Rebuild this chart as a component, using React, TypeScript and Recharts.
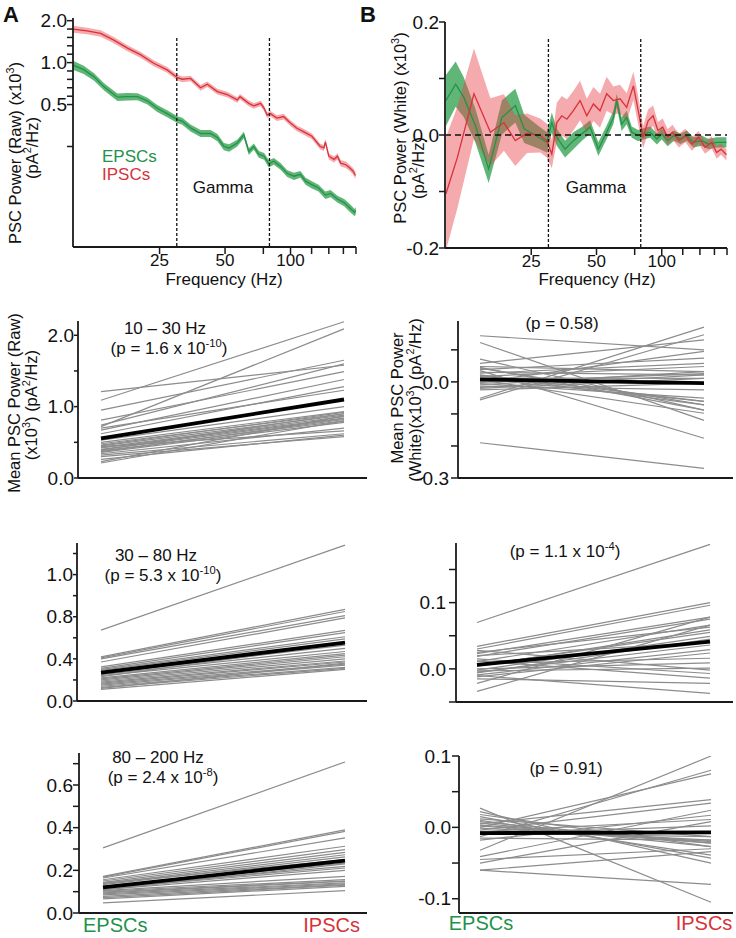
import React from 'react';
import { ComposedChart, LineChart, Line, Area, XAxis, YAxis, ReferenceLine } from 'recharts';

const FONT = '"Liberation Sans", Arial, Helvetica, sans-serif';
const AXIS = '#1a1a1a';
const GRAY = '#8c8c8c';
const GREEN = '#23924a';
const RED = '#d8323a';
const TXT = '#111111';

// ---------- Panel A : raw PSC power spectra ----------
const A_IPSC_FREQ = [10, 11.6, 13.4, 15.4, 17.8, 20.4, 23.5, 27.1, 30.2, 31.8, 34.7, 38.6, 41.4, 46.1, 51.1, 56.9, 58.6, 64.3, 67.8, 72.9, 75.6, 78.1, 80.9, 86.6, 92.9, 99.6, 107, 114.6, 125.4, 137, 142.4, 144.6, 150, 158.6, 164.3, 170, 179.6, 186.9, 193.6, 199];
const A_IPSC_POWER = [1.74, 1.69, 1.62, 1.45, 1.27, 1.14, 0.99, 0.887, 0.78, 0.76, 0.77, 0.66, 0.70, 0.62, 0.59, 0.54, 0.57, 0.51, 0.49, 0.51, 0.47, 0.42, 0.43, 0.40, 0.41, 0.37, 0.338, 0.32, 0.296, 0.25, 0.244, 0.27, 0.213, 0.202, 0.213, 0.19, 0.185, 0.176, 0.167, 0.155];
const A_IPSC_SEM = [0.1, 0.09, 0.085, 0.075, 0.065, 0.055, 0.048, 0.042, 0.037, 0.036, 0.036, 0.031, 0.032, 0.029, 0.027, 0.025, 0.026, 0.024, 0.023, 0.023, 0.022, 0.02, 0.02, 0.019, 0.019, 0.018, 0.016, 0.015, 0.014, 0.012, 0.012, 0.013, 0.011, 0.01, 0.011, 0.01, 0.01, 0.009, 0.009, 0.009];

const A_EPSC_FREQ = [10, 11.2, 12.5, 13.9, 16.0, 17.8, 19.8, 22.0, 24.4, 27.1, 30.2, 31.8, 34.7, 38.6, 42.9, 46.1, 49.4, 52.2, 56.9, 61, 64.3, 67.8, 71.5, 75.6, 79.5, 83.8, 90, 96.6, 103.7, 111, 117.3, 125.4, 134.5, 144.6, 152.8, 164.3, 176.4, 186.9, 197.2, 199.5];
const A_EPSC_POWER = [0.96, 0.89, 0.79, 0.67, 0.565, 0.57, 0.57, 0.53, 0.47, 0.43, 0.39, 0.38, 0.34, 0.31, 0.31, 0.29, 0.25, 0.244, 0.265, 0.303, 0.23, 0.25, 0.22, 0.213, 0.188, 0.196, 0.18, 0.16, 0.153, 0.158, 0.141, 0.133, 0.126, 0.112, 0.115, 0.105, 0.099, 0.091, 0.084, 0.087];
const A_EPSC_SEM = [0.07, 0.06, 0.05, 0.04, 0.035, 0.035, 0.033, 0.03, 0.027, 0.025, 0.022, 0.022, 0.02, 0.018, 0.018, 0.017, 0.015, 0.015, 0.015, 0.016, 0.013, 0.013, 0.012, 0.012, 0.011, 0.011, 0.01, 0.009, 0.009, 0.009, 0.008, 0.008, 0.007, 0.007, 0.007, 0.006, 0.006, 0.006, 0.005, 0.005];

// ---------- Panel B : whitened PSC power spectra ----------
const B_IPSC_FREQ = [10.1, 11.4, 13.6, 16.2, 18.7, 21.1, 23.9, 27.5, 29.5, 31.1, 32.8, 34.6, 36.5, 39.1, 42.0, 45.1, 48.4, 51.9, 55.7, 59.8, 64.2, 68.9, 74, 77.9, 82.1, 86.5, 91.2, 96, 101, 106.5, 112, 120, 128.5, 137.8, 147.7, 158.4, 170, 179, 188, 198.8];
const B_IPSC_POWER = [-0.104, -0.04, 0.073, 0.005, 0.022, -0.01, 0.003, -0.001, -0.01, -0.034, 0.022, 0.034, 0.028, 0.043, 0.061, 0.034, 0.055, 0.043, 0.073, 0.061, 0.064, 0.049, 0.087, 0.043, -0.004, 0.025, 0.034, 0.008, 0.014, -0.004, 0.005, -0.01, -0.001, -0.016, -0.004, -0.022, -0.013, -0.031, -0.025, -0.035];
const B_IPSC_SEM = [0.1, 0.09, 0.08, 0.06, 0.05, 0.045, 0.035, 0.03, 0.03, 0.025, 0.035, 0.035, 0.035, 0.035, 0.035, 0.03, 0.03, 0.03, 0.03, 0.025, 0.025, 0.025, 0.025, 0.025, 0.02, 0.02, 0.018, 0.015, 0.015, 0.014, 0.013, 0.012, 0.012, 0.012, 0.011, 0.011, 0.011, 0.011, 0.01, 0.01];

const B_EPSC_FREQ = [10.1, 11.2, 12.2, 13.8, 15.9, 18.3, 21.1, 23.2, 27, 29.5, 31.1, 32.8, 35.8, 39.1, 42.8, 46.7, 51, 55.7, 59.8, 62, 65.3, 68.9, 72.7, 77.9, 82.1, 88.4, 95, 100, 106.5, 114, 122, 130.6, 140, 153, 164, 179, 198.8];
const B_EPSC_POWER = [0.061, 0.09, 0.067, 0.017, -0.06, 0.031, 0.052, 0.011, -0.004, -0.013, 0.022, -0.004, -0.025, -0.01, 0.002, 0.014, -0.025, 0.005, 0.031, 0.061, 0.019, 0.031, 0.005, -0.001, 0.002, 0.005, -0.007, 0.002, -0.01, -0.001, -0.007, -0.001, -0.013, -0.01, -0.016, -0.013, -0.013];
const B_EPSC_SEM = [0.045, 0.04, 0.035, 0.03, 0.025, 0.03, 0.03, 0.025, 0.02, 0.018, 0.018, 0.015, 0.015, 0.015, 0.012, 0.012, 0.012, 0.012, 0.012, 0.012, 0.012, 0.012, 0.01, 0.01, 0.01, 0.01, 0.01, 0.01, 0.01, 0.009, 0.009, 0.009, 0.009, 0.009, 0.009, 0.009, 0.009];

const FREQ_TICKS = [25, 50, 75, 100, 125, 150, 175, 200];
const FREQ_LABELS = [25, 50, 100];
const A_Y_TICKS = [0.25, 0.5, 0.574, 0.66, 0.758, 0.871, 1, 1.149, 1.32, 1.516, 1.741, 2];
const A_Y_LABELS: [number, string][] = [[0.5, '0.5'], [1, '1.0'], [2, '2.0']];
const B_Y_TICKS = [-0.2, -0.1, 0, 0.1, 0.2];
const B_Y_LABELS: [number, string][] = [[-0.2, '-0.2'], [0, '0.0'], [0.2, '0.2']];

// ---------- paired cell values (EPSC -> IPSC) ----------
const R1L_EPSC = [1.21, 1.09, 0.95, 0.81, 0.74, 0.72, 0.67, 0.62, 0.70, 0.53, 0.50, 0.48, 0.46, 0.45, 0.43, 0.42, 0.40, 0.38, 0.37, 0.36, 0.34, 0.32, 0.30, 0.26, 0.23, 0.21, 0.44, 0.39];
const R1L_IPSC = [1.58, 2.19, 1.65, 1.49, 1.60, 2.09, 1.38, 1.28, 1.23, 1.00, 0.93, 0.90, 0.92, 0.88, 0.86, 0.84, 0.83, 0.80, 0.82, 0.78, 0.70, 0.62, 0.58, 0.60, 0.87, 0.80, 0.66, 0.90];
const R1L_MEAN = [0.555, 1.10];
const R1L_TICKS = [0, 0.5, 1, 1.5, 2];
const R1L_LABELS: [number, string][] = [[0, '0.0'], [1, '1.0'], [2, '2.0']];

const R1R_EPSC = [0.144, 0.123, 0.071, 0.058, 0.048, 0.043, 0.038, 0.035, 0.03, 0.027, 0.022, 0.017, 0.012, 0.006, 0.0, -0.005, -0.009, -0.013, -0.017, -0.025, -0.051, -0.056, -0.19, 0.045, 0.02, -0.002, 0.01, -0.02];
const R1R_IPSC = [0.10, -0.12, -0.088, 0.131, 0.032, -0.072, 0.074, -0.176, 0.022, 0.058, -0.061, 0.048, 0.011, -0.098, 0.095, -0.051, 0.032, -0.025, 0.022, -0.004, 0.171, 0.147, -0.27, -0.088, -0.072, 0.026, -0.061, 0.011];
const R1R_MEAN = [0.008, -0.004];
const R1R_TICKS = [-0.3, -0.2, -0.1, 0, 0.1];
const R1R_LABELS: [number, string][] = [[-0.3, '-0.3'], [0, '0.0']];

const R2L_EPSC = [0.673, 0.419, 0.41, 0.40, 0.37, 0.324, 0.31, 0.30, 0.29, 0.28, 0.26, 0.25, 0.24, 0.23, 0.22, 0.21, 0.20, 0.19, 0.18, 0.17, 0.16, 0.15, 0.14, 0.13, 0.11, 0.12];
const R2L_IPSC = [1.48, 0.87, 0.85, 0.81, 0.79, 0.67, 0.65, 0.61, 0.59, 0.56, 0.53, 0.50, 0.47, 0.55, 0.45, 0.435, 0.42, 0.40, 0.38, 0.37, 0.35, 0.34, 0.32, 0.31, 0.30, 0.36];
const R2L_MEAN = [0.27, 0.555];
const R2L_TICKS = [0, 0.2, 0.4, 0.6, 0.8, 1.0, 1.2, 1.4];
const R2L_LABELS: [number, string][] = [[0, '0.0'], [0.4, '0.4'], [0.8, '0.8'], [1.2, '1.0']];

const R2R_EPSC = [0.07, 0.034, 0.03, 0.025, 0.023, 0.019, 0.015, 0.011, 0.004, -0.002, -0.005, -0.009, -0.012, -0.022, -0.034, 0.008, 0.0, -0.003, 0.012, -0.015, -0.01, 0.02, 0.028, -0.006, 0.005];
const R2R_IPSC = [0.188, 0.1, 0.096, 0.063, 0.078, 0.075, -0.007, 0.066, 0.059, 0.049, 0.036, 0.029, 0.024, 0.078, 0.066, 0.016, 0.009, 0.001, -0.014, -0.022, -0.037, 0.04, -0.002, 0.045, 0.055];
const R2R_MEAN = [0.006, 0.041];
const R2R_TICKS = [-0.05, 0, 0.05, 0.1, 0.15];
const R2R_LABELS: [number, string][] = [[0, '0.0'], [0.1, '0.1']];

const R3L_EPSC = [0.305, 0.172, 0.168, 0.164, 0.156, 0.15, 0.144, 0.138, 0.133, 0.125, 0.12, 0.115, 0.109, 0.105, 0.102, 0.098, 0.094, 0.09, 0.085, 0.078, 0.072, 0.066, 0.047, 0.11, 0.14];
const R3L_IPSC = [0.708, 0.39, 0.383, 0.352, 0.313, 0.297, 0.284, 0.273, 0.263, 0.234, 0.219, 0.211, 0.23, 0.172, 0.156, 0.15, 0.148, 0.141, 0.137, 0.133, 0.13, 0.125, 0.105, 0.2, 0.25];
const R3L_MEAN = [0.12, 0.245];
const R3L_TICKS = [0, 0.1, 0.2, 0.3, 0.4, 0.5, 0.6, 0.7];
const R3L_LABELS: [number, string][] = [[0, '0.0'], [0.2, '0.2'], [0.4, '0.4'], [0.6, '0.6']];

const R3R_EPSC = [0.027, 0.022, 0.015, 0.01, 0.006, 0.002, -0.001, -0.006, -0.013, -0.018, -0.032, -0.041, -0.05, -0.06, -0.06, 0.005, -0.004, 0.012, 0.0, -0.01, 0.008, -0.015, 0.018, -0.008, 0.003, -0.045];
const R3R_IPSC = [-0.105, -0.05, -0.043, -0.039, -0.027, -0.022, -0.018, 0.011, 0.08, 0.017, 0.1, 0.024, 0.008, -0.08, -0.034, 0.039, 0.034, -0.013, 0.075, 0.002, -0.022, -0.018, -0.027, -0.013, -0.02, -0.03];
const R3R_MEAN = [-0.008, -0.007];
const R3R_TICKS = [-0.1, -0.05, 0, 0.05, 0.1];
const R3R_LABELS: [number, string][] = [[-0.1, '-0.1'], [0, '0.0'], [0.1, '0.1']];

const CATEGORIES = ['EPSCs', 'IPSCs'];

// ---------- helpers ----------
function fmt(labels: [number, string][]) {
  return (v: number) => {
    const m = labels.find(([k]) => Math.abs(k - v) < 1e-9);
    return m ? m[1] : '';
  };
}

function toRows(f: number[], v: number[], e: number[]) {
  return f.map((fr, i) => ({ f: fr, v: v[i], band: [v[i] - e[i], v[i] + e[i]] }));
}

const xTickStyle = { fill: TXT, fontSize: 17, fontFamily: FONT };
const yTickStyle = { fill: TXT, fontSize: 19, fontFamily: FONT };

function SpectrumPanel(props: any) {
  const { left, top, right, bottom, yScale, yDomain, yTicks, yLabels, green, red, refTop, zeroLine, ySize, yMargin } = props;
  const YW = 60, MT = 12, XH = 40, MR = 4;
  const width = YW + (right - left) + MR;
  const height = MT + (bottom - top) + XH;
  return (
    <div style={{ position: 'absolute', left: left - YW, top: top - MT }}>
      <ComposedChart width={width} height={height} margin={{ top: MT, right: MR, bottom: 0, left: 0 }}>
        <XAxis type="number" dataKey="f" scale="log" domain={[10, 200]} allowDataOverflow ticks={FREQ_TICKS} interval={0}
          tickFormatter={(v: number) => (FREQ_LABELS.includes(v) ? String(v) : '')} height={XH} tickSize={7} tickMargin={0}
          axisLine={{ stroke: AXIS, strokeWidth: 1.8 }} tickLine={{ stroke: AXIS, strokeWidth: 1.5 }} tick={xTickStyle} />
        <YAxis type="number" scale={yScale} domain={yDomain} allowDataOverflow ticks={yTicks} interval={0}
          tickFormatter={fmt(yLabels)} width={YW} tickSize={ySize} tickMargin={yMargin}
          axisLine={{ stroke: AXIS, strokeWidth: 1.8 }} tickLine={{ stroke: AXIS, strokeWidth: 1.5 }} tick={yTickStyle} />
        <Area data={green} dataKey="band" type="linear" stroke="none" fill="#4fae68" fillOpacity={0.9} isAnimationActive={false} />
        <Area data={red} dataKey="band" type="linear" stroke="none" fill="#e8434b" fillOpacity={0.45} isAnimationActive={false} />
        <Line data={green} dataKey="v" type="linear" stroke={GREEN} strokeWidth={1.3} dot={false} isAnimationActive={false} />
        <Line data={red} dataKey="v" type="linear" stroke={RED} strokeWidth={1.3} dot={false} isAnimationActive={false} />
        {zeroLine ? <ReferenceLine y={0} stroke="#111" strokeDasharray="6 4" strokeWidth={1.5} ifOverflow="visible" /> : null}
        <ReferenceLine segment={[{ x: 30, y: refTop }, { x: 30, y: yDomain[0] }]} stroke="#111" strokeDasharray="3 2" strokeWidth={1.3} ifOverflow="visible" />
        <ReferenceLine segment={[{ x: 80, y: refTop }, { x: 80, y: yDomain[0] }]} stroke="#111" strokeDasharray="3 2" strokeWidth={1.3} ifOverflow="visible" />
      </ComposedChart>
    </div>
  );
}

function PairPanel(props: any) {
  const { left, top, right, bottom, x0, x1, domain, ticks, labels, epsc, ipsc, mean, ySize, yMargin } = props;
  const YW = 60, MT = 12, XH = 30, MR = 4;
  const width = YW + (right - left) + MR;
  const height = MT + (bottom - top) + XH;
  const xd = [(left - x0) / (x1 - x0), (right - x0) / (x1 - x0)];
  const rows: any[] = [{ x: 0, cat: CATEGORIES[0] }, { x: 1, cat: CATEGORIES[1] }];
  epsc.forEach((e: number, i: number) => {
    rows[0]['c' + i] = e;
    rows[1]['c' + i] = ipsc[i];
  });
  rows[0].m = mean[0];
  rows[1].m = mean[1];
  return (
    <div style={{ position: 'absolute', left: left - YW, top: top - MT }}>
      <LineChart width={width} height={height} data={rows} margin={{ top: MT, right: MR, bottom: 0, left: 0 }}>
        <XAxis type="number" dataKey="x" domain={xd} allowDataOverflow tick={false} tickLine={false} height={XH}
          axisLine={{ stroke: AXIS, strokeWidth: 2 }} />
        <YAxis type="number" domain={domain} allowDataOverflow ticks={ticks} interval={0} tickFormatter={fmt(labels)}
          width={YW} tickSize={ySize} tickMargin={yMargin}
          axisLine={{ stroke: AXIS, strokeWidth: 1.8 }} tickLine={{ stroke: AXIS, strokeWidth: 1.5 }} tick={yTickStyle} />
        {epsc.map((_: number, i: number) => (
          <Line key={i} dataKey={'c' + i} type="linear" stroke={GRAY} strokeWidth={1.2} dot={false} isAnimationActive={false} />
        ))}
        <Line dataKey="m" type="linear" stroke="#000" strokeWidth={3.8} dot={false} isAnimationActive={false} />
      </LineChart>
    </div>
  );
}

type Seg = string | { s: string };
function T(props: { x: number; y: number; segs: Seg[]; size?: number; anchor?: string; fill?: string; weight?: string; rotate?: boolean }) {
  const { x, y, segs, size = 17, anchor = 'start', fill = TXT, weight = 'normal', rotate = false } = props;
  let prevSup = false;
  const shift = size * 0.4;
  const kids = segs.map((sg, i) => {
    const isSup = typeof sg !== 'string';
    const txt = isSup ? (sg as { s: string }).s : (sg as string);
    let dy = 0;
    if (isSup && !prevSup) dy = -shift;
    if (!isSup && prevSup) dy = shift;
    prevSup = isSup;
    return (
      <tspan key={i} dy={dy || undefined} fontSize={isSup ? size * 0.66 : size}>
        {txt}
      </tspan>
    );
  });
  return (
    <text x={x} y={y} textAnchor={anchor as any} fontSize={size} fill={fill} fontWeight={weight}
      transform={rotate ? `rotate(-90 ${x} ${y})` : undefined}>
      {kids}
    </text>
  );
}

export default function App() {
  const aGreen = toRows(A_EPSC_FREQ, A_EPSC_POWER, A_EPSC_SEM);
  const aRed = toRows(A_IPSC_FREQ, A_IPSC_POWER, A_IPSC_SEM);
  const bGreen = toRows(B_EPSC_FREQ, B_EPSC_POWER, B_EPSC_SEM);
  const bRed = toRows(B_IPSC_FREQ, B_IPSC_POWER, B_IPSC_SEM);
  return (
    <div style={{ position: 'absolute', left: 0, top: 0, width: 736, height: 938, background: '#fff', fontFamily: FONT }}>
      <SpectrumPanel left={73} top={18} right={356} bottom={247} yScale="log" yDomain={[0.0475, 2.09]}
        yTicks={A_Y_TICKS} yLabels={A_Y_LABELS} green={aGreen} red={aRed} refTop={1.5} zeroLine={false} ySize={6} yMargin={0} />
      <SpectrumPanel left={445} top={22} right={727} bottom={248} yScale="linear" yDomain={[-0.2, 0.2]}
        yTicks={B_Y_TICKS} yLabels={B_Y_LABELS} green={bGreen} red={bRed} refTop={0.17} zeroLine={true} ySize={6} yMargin={0} />

      <PairPanel left={78} top={321} right={367} bottom={478} x0={101} x1={344} domain={[0, 2.2]}
        ticks={R1L_TICKS} labels={R1L_LABELS} epsc={R1L_EPSC} ipsc={R1L_IPSC} mean={R1L_MEAN} ySize={4} yMargin={0} />
      <PairPanel left={458} top={321} right={733} bottom={478} x0={480} x1={704} domain={[-0.3, 0.19]}
        ticks={R1R_TICKS} labels={R1R_LABELS} epsc={R1R_EPSC} ipsc={R1R_IPSC} mean={R1R_MEAN} ySize={7} yMargin={2} />
      <PairPanel left={77} top={543} right={367} bottom={701} x0={101} x1={345} domain={[0, 1.5]}
        ticks={R2L_TICKS} labels={R2L_LABELS} epsc={R2L_EPSC} ipsc={R2L_IPSC} mean={R2L_MEAN} ySize={4} yMargin={0} />
      <PairPanel left={456} top={543} right={733} bottom={702} x0={477} x1={710} domain={[-0.05, 0.19]}
        ticks={R2R_TICKS} labels={R2R_LABELS} epsc={R2R_EPSC} ipsc={R2R_IPSC} mean={R2R_MEAN} ySize={7} yMargin={3} />
      <PairPanel left={79} top={753} right={367} bottom={913} x0={103} x1={345} domain={[0, 0.75]}
        ticks={R3L_TICKS} labels={R3L_LABELS} epsc={R3L_EPSC} ipsc={R3L_IPSC} mean={R3L_MEAN} ySize={6} yMargin={0} />
      <PairPanel left={459} top={756} right={733} bottom={913} x0={480} x1={711} domain={[-0.12, 0.1]}
        ticks={R3R_TICKS} labels={R3R_LABELS} epsc={R3R_EPSC} ipsc={R3R_IPSC} mean={R3R_MEAN} ySize={7} yMargin={1} />

      <svg width={736} height={938} style={{ position: 'absolute', left: 0, top: 0, pointerEvents: 'none', fontFamily: FONT }}>
        <T x={3} y={22} segs={['A']} size={22} weight="bold" />
        <T x={360} y={22} segs={['B']} size={22} weight="bold" />

        <T x={21} y={153} segs={['PSC Power (Raw) (x10', { s: '3' }, ')']} size={16.5} anchor="middle" rotate />
        <T x={38} y={148} segs={['(pA', { s: '2' }, '/Hz)']} size={16.5} anchor="middle" rotate />
        <T x={224} y={285} segs={['Frequency (Hz)']} anchor="middle" />
        <T x={102} y={162} segs={['EPSCs']} fill={GREEN} />
        <T x={102} y={180} segs={['IPSCs']} fill={RED} />
        <T x={223} y={193} segs={['Gamma']} anchor="middle" />

        <T x={406} y={128} segs={['PSC Power (White) (x10', { s: '3' }, ')']} size={16.5} anchor="middle" rotate />
        <T x={424} y={168} segs={['(pA', { s: '2' }, '/Hz)']} size={16.5} anchor="middle" rotate />
        <T x={597} y={285} segs={['Frequency (Hz)']} anchor="middle" />
        <T x={596} y={193} segs={['Gamma']} anchor="middle" />

        <T x={20} y={403} segs={['Mean PSC Power (Raw)']} size={16.5} anchor="middle" rotate />
        <T x={37} y={405} segs={['(x10', { s: '3' }, ') (pA', { s: '2' }, '/Hz)']} size={16.5} anchor="middle" rotate />
        <T x={403} y={398} segs={['Mean PSC Power']} size={16.5} anchor="middle" rotate />
        <T x={421} y={400} segs={['(White)(x10', { s: '3' }, ') (pA', { s: '2' }, '/Hz)']} size={16.5} anchor="middle" rotate />

        <T x={165} y={334} segs={['10 \u2013 30 Hz']} anchor="middle" />
        <T x={169} y={354} segs={['(p = 1.6 x 10', { s: '-10' }, ')']} anchor="middle" />
        <T x={562} y={329} segs={['(p = 0.58)']} anchor="middle" />

        <T x={156} y={561} segs={['30 \u2013 80 Hz']} anchor="middle" />
        <T x={163} y={581} segs={['(p = 5.3 x 10', { s: '-10' }, ')']} anchor="middle" />
        <T x={565} y={557} segs={['(p = 1.1 x 10', { s: '-4' }, ')']} anchor="middle" />

        <T x={158} y={763} segs={['80 \u2013 200 Hz']} anchor="middle" />
        <T x={163} y={783} segs={['(p = 2.4 x 10', { s: '-8' }, ')']} anchor="middle" />
        <T x={566} y={774} segs={['(p = 0.91)']} anchor="middle" />

        <T x={83} y={932} segs={[CATEGORIES[0]]} size={20} fill={GREEN} />
        <T x={360} y={932} segs={[CATEGORIES[1]]} size={20} fill={RED} anchor="end" />
        <T x={481} y={930} segs={[CATEGORIES[0]]} size={20} fill={GREEN} anchor="middle" />
        <T x={704} y={930} segs={[CATEGORIES[1]]} size={20} fill={RED} anchor="middle" />
      </svg>
    </div>
  );
}
